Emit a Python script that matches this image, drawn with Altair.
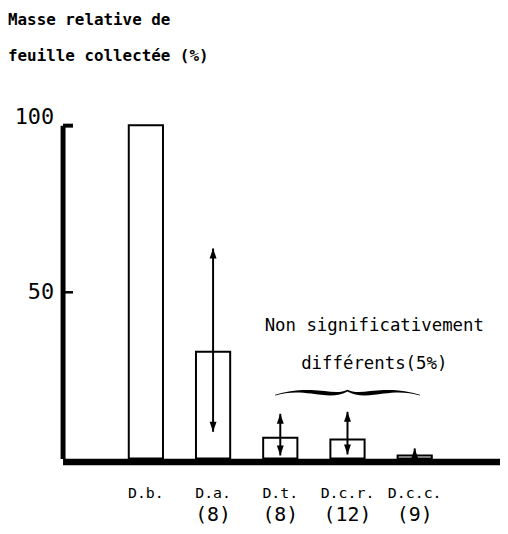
import altair as alt
import pandas as pd

# ---- data ----
categories = ["D.b.", "D.a.", "D.t.", "D.c.r.", "D.c.c."]
sample_sizes = ["", "(8)", "(8)", "(12)", "(9)"]
mass_pct = [100, 32, 6.2, 5.7, 0.9]

err_categories = ["D.a.", "D.t.", "D.c.r.", "D.c.c."]
err_low = [8, 0.9, 1.2, 0]
err_high = [63, 13.4, 14, 3]

y_ticks = [50, 100]

title_lines = ["Masse relative de", "feuille collectée (%)"]
note_lines = ["Non significativement", "différents(5%)"]
note_y = [38.1, 26.8]
note_anchor = "D.c.r."
brace_y = [20.1]

bars_df = pd.DataFrame({"groupe": categories, "masse": mass_pct})
err_df = pd.DataFrame({"groupe": err_categories, "bas": err_low, "haut": err_high})
note_df = pd.DataFrame({"texte": note_lines, "y": note_y, "groupe": [note_anchor] * len(note_lines)})
brace_df = pd.DataFrame({"groupe": [note_anchor], "y": brace_y})

W, H = 441, 336
MONO = "DejaVu Sans Mono"

x_scale = alt.Scale(domain=categories, paddingInner=0.491, paddingOuter=1, align=0.4926)
y_scale = alt.Scale(domain=[0, 100], nice=False)

count_expr = " : ".join(
    f"datum.value == '{c}' ? '{n}'" for c, n in zip(categories, sample_sizes)
) + " : ''"

UP = "M0,0L0.7,2L-0.7,2Z"
DOWN = "M0,0L0.7,-2L-0.7,-2Z"
BRACE = (
    "M-1,0.045 C-0.85,0 -0.7,-0.025 -0.5,-0.02 C-0.3,-0.015 -0.12,0.04 0,-0.025 "
    "C0.12,0.04 0.3,-0.015 0.5,-0.02 C0.7,-0.025 0.85,0 1,0.045 L1,0.055 "
    "C0.85,0.012 0.7,0 0.5,0.03 C0.3,0.06 0.12,0.075 0,0 "
    "C-0.12,0.075 -0.3,0.06 -0.5,0.03 C-0.7,0 -0.85,0.012 -1,0.055 Z"
)

bars = alt.Chart(bars_df).mark_bar(fill="white", stroke="black", strokeWidth=2).encode(
    x=alt.X("groupe:N", scale=x_scale, title=None, axis=alt.Axis(
        orient="bottom", offset=3, domainWidth=6.5, domainColor="black",
        ticks=False, tickSize=0, grid=False, labelAngle=0,
        labelFont=MONO, labelFontSize=15, labelColor="black",
        labelPadding=36, labelBaseline="alphabetic")),
    y=alt.Y("masse:Q", scale=y_scale, title=None, axis=alt.Axis(
        orient="left", values=y_ticks, domainWidth=5, domainColor="black",
        ticks=False, tickSize=0, grid=False,
        labelFont=MONO, labelFontSize=22, labelColor="black",
        labelPadding=9, labelBaseline="middle",
        labelOffset={"condition": {"test": "datum.value == 100", "value": -9}, "value": 0})),
)

rules = alt.Chart(err_df).mark_rule(color="black", strokeWidth=2).encode(
    x=alt.X("groupe:N", scale=x_scale, title=None, axis=alt.Axis(
        orient="bottom", offset=3, domain=False, ticks=False, tickSize=0, grid=False,
        labelAngle=0, labelExpr=count_expr, labelFont=MONO, labelFontSize=20,
        labelColor="black", labelPadding=60, labelBaseline="alphabetic")),
    y=alt.Y("bas:Q", scale=y_scale, title=None, axis=alt.Axis(
        orient="right", offset=-W, values=y_ticks, domain=False, labels=False,
        ticks=True, tickSize=10, tickColor="black", grid=False,
        tickWidth={"condition": {"test": "datum.value == 100", "value": 4}, "value": 2.5})),
    y2="haut:Q",
)

up = alt.Chart(err_df).mark_point(shape=UP, filled=True, color="black", size=100, opacity=1).encode(
    x=alt.X("groupe:N", scale=x_scale, axis=None),
    y=alt.Y("haut:Q", scale=y_scale, axis=None),
)

down = alt.Chart(err_df).transform_filter("datum.bas > 0").mark_point(
    shape=DOWN, filled=True, color="black", size=100, opacity=1).encode(
    x=alt.X("groupe:N", scale=x_scale, axis=None),
    y=alt.Y("bas:Q", scale=y_scale, axis=None),
)

brace = alt.Chart(brace_df).mark_point(shape=BRACE, filled=True, color="black", size=146 * 146, opacity=1).encode(
    x=alt.X("groupe:N", scale=x_scale, axis=None),
    y=alt.Y("y:Q", scale=y_scale, axis=None),
)

note = alt.Chart(note_df).mark_text(font=MONO, fontSize=17.5, color="black", align="center",
                                    baseline="alphabetic", dx=27).encode(
    x=alt.X("groupe:N", scale=x_scale, axis=None),
    y=alt.Y("y:Q", scale=y_scale, axis=None),
    text="texte:N",
)

chart = alt.layer(bars, rules, up, down, brace, note).resolve_axis(
    x="independent", y="independent"
).properties(
    width=W, height=H,
    padding={"left": 55, "top": 116, "right": 0, "bottom": 66},
    autosize=alt.AutoSizeParams(type="none"),
    background="white",
    title=alt.TitleParams(text=title_lines, anchor="start", frame="group", dx=-55, dy=-38,
                          font=MONO, fontSize=16, fontWeight="bold", lineHeight=36,
                          color="black"),
).configure_view(stroke=None)

chart.save("out.html", embed_options={"renderer": "svg", "actions": False})
